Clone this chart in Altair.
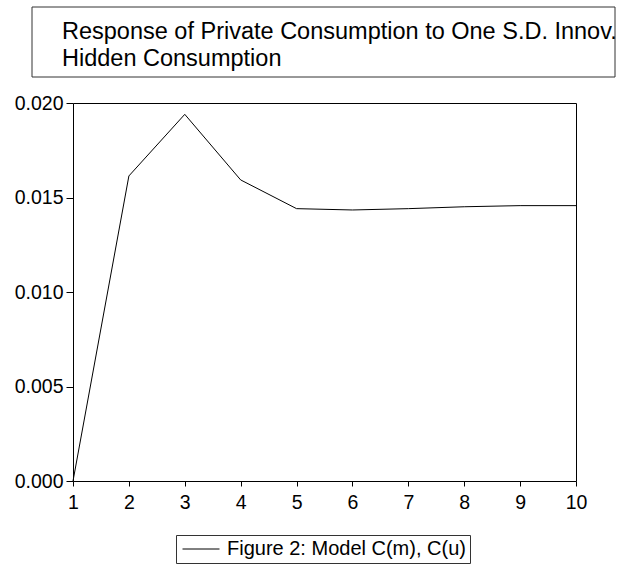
import altair as alt
import pandas as pd

# Impulse-response values by period
periods = [1, 2, 3, 4, 5, 6, 7, 8, 9, 10]
response = [0.0, 0.01614, 0.0194, 0.01593, 0.01441, 0.01434, 0.01441, 0.01451, 0.01457, 0.01457]

title_lines = ["Response of Private Consumption to One S.D. Innov.", "Hidden Consumption"]
series_name = "Figure 2: Model C(m), C(u)"

y_ticks = [0.0, 0.005, 0.010, 0.015, 0.020]

FONT = "Liberation Sans"

df = pd.DataFrame({"period": periods, "response": response, "series": series_name})
one_row = pd.DataFrame({"k": [0]})

W, H = 503, 378

line = alt.Chart(df).mark_line(strokeWidth=1, clip=False).encode(
    x=alt.X("period:Q",
            scale=alt.Scale(domain=[1, 10], nice=False, zero=False),
            axis=alt.Axis(values=periods, format="d", title=None, grid=False,
                          domain=False, tickColor="black", tickSize=5,
                          labelFontSize=19.5, labelColor="black", labelFont=FONT,
                          labelPadding=7, labelFlush=False)),
    y=alt.Y("response:Q",
            scale=alt.Scale(domain=[0, 0.02], nice=False),
            axis=alt.Axis(values=y_ticks, format=".3f", title=None, grid=False,
                          domain=False, tickColor="black", tickSize=7,
                          labelFontSize=19.5, labelColor="black", labelFont=FONT,
                          labelPadding=3)),
    color=alt.Color("series:N",
                    scale=alt.Scale(domain=[series_name], range=["black"]),
                    legend=alt.Legend(title=None, orient="none",
                                      legendX=103, legendY=432,
                                      symbolType="M-2,0H2", symbolSize=342,
                                      symbolStrokeWidth=1, symbolOffset=11,
                                      labelOffset=16, labelFontSize=20,
                                      labelFont=FONT, labelColor="black",
                                      padding=4, strokeColor="#333333",
                                      fillColor="white", labelLimit=400)),
)

# Boxed heading above the plot
title_box = alt.Chart(one_row).mark_rect(fill="white", stroke="#333333", strokeWidth=1).encode(
    x=alt.value(-41), x2=alt.value(542), y=alt.value(-96), y2=alt.value(-26)
)
title_text = alt.Chart(one_row).mark_text(
    align="left", baseline="alphabetic", fontSize=23.5, font=FONT,
    fontWeight="normal", lineHeight=27, color="black"
).encode(
    x=alt.value(-11), y=alt.value(-64), text=alt.value(title_lines)
)

chart = alt.layer(title_box, title_text, line).properties(
    width=W, height=H,
    autosize=alt.AutoSizeParams(type="none"),
    padding={"left": 73, "top": 103, "right": 49, "bottom": 89},
).configure_view(stroke="black", strokeWidth=1)

chart.save("out.html", embed_options={"renderer": "svg", "actions": False})
